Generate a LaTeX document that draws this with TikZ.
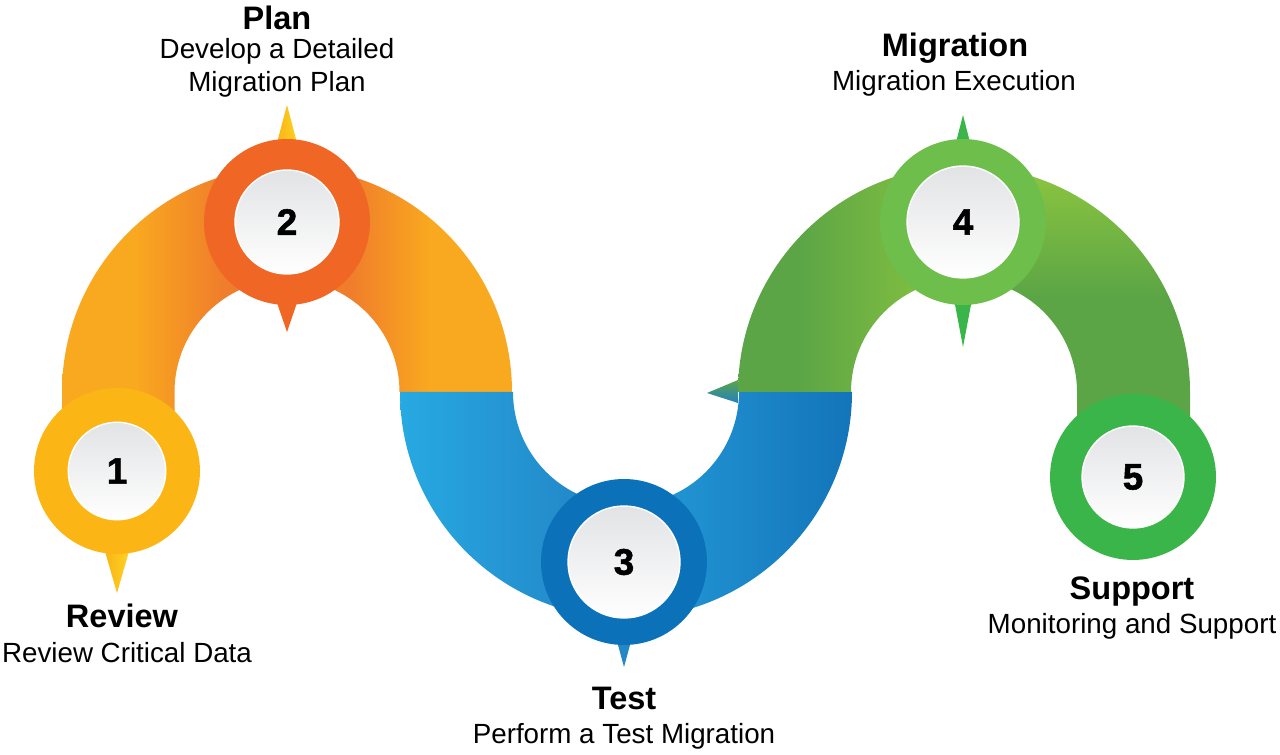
\documentclass[tikz,border=0pt]{standalone}
\usepackage{fontspec}
\setmainfont{Liberation Sans}
\newfontfamily\numfont{Liberation Sans Bold}[FakeBold=1.5]
\usetikzlibrary{positioning}

\definecolor{archYellow}{HTML}{F9A91F}
\definecolor{archOrange}{HTML}{F07D2B}
\definecolor{blueLight}{HTML}{27A9E1}
\definecolor{blueMid}{HTML}{2280C3}
\definecolor{blueLightB}{HTML}{259CD8}
\definecolor{blueDark}{HTML}{1374BA}
\definecolor{greenDark}{HTML}{5BA546}
\definecolor{greenLight}{HTML}{8DC63F}
\definecolor{ringOne}{HTML}{FBB615}
\definecolor{ringTwo}{HTML}{F06624}
\definecolor{ringThree}{HTML}{0B72BA}
\definecolor{ringFour}{HTML}{6DBE4B}
\definecolor{ringFive}{HTML}{3AB54A}
\definecolor{faceTop}{HTML}{E2E3E5}
\definecolor{ptrYellow}{HTML}{F9B016}
\definecolor{ptrYellowB}{HTML}{FFD622}
\definecolor{ptrBlue}{HTML}{2587C8}
\definecolor{ptrGreen}{HTML}{3AB54A}

\pgfdeclarehorizontalshading{orangeArch}{100bp}{color(0bp)=(archYellow); color(33bp)=(archYellow); color(43bp)=(archOrange); color(57bp)=(archOrange); color(66bp)=(archYellow); color(100bp)=(archYellow)}
\pgfdeclarehorizontalshading{greenLeft}{100bp}{color(0bp)=(greenDark); color(38bp)=(greenDark); color(75bp)=(greenLight); color(100bp)=(greenLight)}
\pgfdeclareverticalshading{greenRight}{100bp}{color(0bp)=(greenDark); color(50bp)=(greenDark); color(75bp)=(greenLight); color(100bp)=(greenLight)}

\tikzset{
  numRing/.style={circle, fill=#1, minimum size=3.32cm, inner sep=0pt},
  numFace/.style={circle, top color=faceTop, bottom color=white, draw=white, line width=0.8pt,
    minimum size=#1, inner sep=0pt, text=black, font=\numfont\fontsize{21}{24}\selectfont},
  numFace/.default=2.1cm,
  stepTitle/.style={anchor=base, font=\bfseries\fontsize{18.5}{22}\selectfont},
  stepText/.style={anchor=base, align=center, font=\fontsize{15.8}{19.3}\selectfont},
}

\begin{document}
\begin{tikzpicture}[x=0.02cm, y=0.02cm]
  \useasboundingbox (0,0) rectangle (1280,754);

  % orange arch
  \shade[shading=orangeArch] (62,324) -- (62,362) arc[start angle=180, end angle=0, radius=225]
    -- (399.5,362) arc[start angle=0, end angle=180, radius=112.5] -- (174.5,324) -- cycle;
  % blue bend
  \shade[left color=blueLight, right color=blueMid] (400,362) arc[start angle=180, end angle=270, radius=226]
    -- (626,249) arc[start angle=270, end angle=180, radius=113] -- cycle;
  \shade[left color=blueLightB, right color=blueDark] (626,136) arc[start angle=270, end angle=360, radius=226]
    -- (739,362) arc[start angle=0, end angle=-90, radius=113] -- cycle;
  % green arch
  \shade[shading=greenLeft] (738,362) arc[start angle=180, end angle=90, radius=226]
    -- (964,475) arc[start angle=90, end angle=180, radius=113] -- cycle;
  \shade[shading=greenRight] (964,588) arc[start angle=90, end angle=0, radius=226] -- (1190,324)
    -- (1077,324) -- (1077,362) arc[start angle=0, end angle=90, radius=113] -- cycle;
  \shade[top color=greenDark, bottom color=blueMid] (738,374) -- (707,361) -- (738,351) -- cycle;

  \coordinate (c1) at (117,283);
  \coordinate (c2) at (287,532);
  \coordinate (c3) at (624,192);
  \coordinate (c4) at (963,532);
  \coordinate (c5) at (1133,277);

  % pointers
  \shade[left color=ptrYellow, right color=ptrYellowB] (c1) ++(-15,-70) -- ++(15,-52) -- ++(15,52) -- cycle;
  \shade[left color=ptrYellow, right color=ptrYellowB] (c2) ++(-13,68) -- ++(13,49) -- ++(13,-49) -- cycle;
  \fill[ringTwo] (c2) ++(-13,-72) -- ++(13,-38) -- ++(13,38) -- cycle;
  \fill[ptrBlue] (c3) ++(-9,-72) -- ++(9,-33) -- ++(9,33) -- cycle;
  \fill[ptrGreen] (c4) ++(-10,68) -- ++(10,39) -- ++(10,-39) -- cycle;
  \fill[ptrGreen] (c4) ++(-10,-72) -- ++(10,-53) -- ++(10,53) -- cycle;

  % step circles
  \node[numRing=ringOne] (r1) at (c1) {};
  \node[numFace=1.95cm] (n1) at (c1) {1};
  \node[numRing=ringTwo] (r2) at (c2) {};
  \node[numFace=2.08cm] (n2) at (c2) {2};
  \node[numRing=ringThree] (r3) at (c3) {};
  \node[numFace=2.24cm] (n3) at (c3) {3};
  \node[numRing=ringFour] (r4) at (c4) {};
  \node[numFace=2.24cm] (n4) at (c4) {4};
  \node[numRing=ringFive] (r5) at (c5) {};
  \node[numFace=2.04cm] (n5) at (c5) {5};

  % labels
  \node[stepTitle] (t1) at (122,127) {Review};
  \node[stepText] (d1) at (127,92) {Review Critical Data};
  \node[stepTitle] (t2) at (277,724) {Plan};
  \node[stepText] (d2) at (277,662) {Develop a Detailed\\Migration Plan};
  \node[stepTitle] (t3) at (624,45) {Test};
  \node[stepText] (d3) at (624,11) {Perform a Test Migration};
  \node[stepTitle] (t4) at (955,697) {Migration};
  \node[stepText] (d4) at (954,663) {Migration Execution};
  \node[stepTitle] (t5) at (1132,155) {Support};
  \node[stepText] (d5) at (1132,121) {Monitoring and Support};
\end{tikzpicture}
\end{document}
